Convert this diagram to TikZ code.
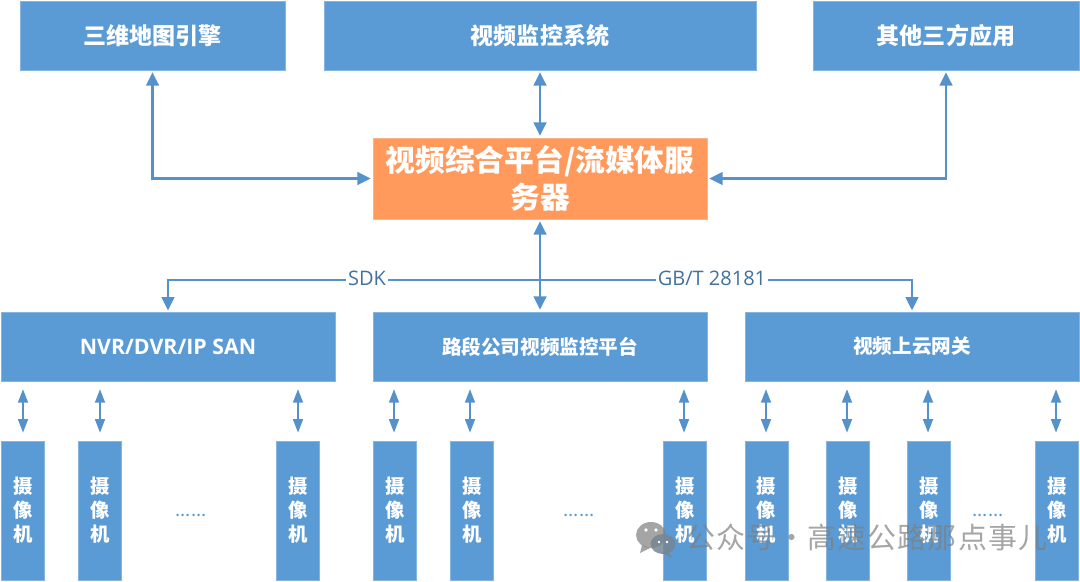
\documentclass[tikz,border=0pt]{standalone}
\usepackage{fontspec}
\setmainfont{Noto Sans CJK SC}
\newfontfamily\labelfont{Open Sans}
\usetikzlibrary{arrows.meta, positioning}
\definecolor{cBlue}{HTML}{5B9BD5}
\definecolor{cOrange}{HTML}{FF9A5C}
\definecolor{cLine}{HTML}{5591CB}
\definecolor{cText}{HTML}{41719C}
\definecolor{cMark}{HTML}{7F7F7F}
\begin{document}
\begin{tikzpicture}[
  x=0.75pt, y=-0.75pt,
  cbox/.style={rectangle, draw=cBlue!75!white, line width=0.4pt, fill=cBlue, text=white,
              align=center, inner sep=0pt, font=\bfseries},
  topbox/.style={cbox, minimum height=51.75pt, font=\fontsize{17.3}{20}\selectfont\bfseries},
  midbox/.style={cbox, minimum width=250.5pt, minimum height=51.75pt,
                 font=\fontsize{14.7}{18}\selectfont\bfseries},
  cambox/.style={cbox, minimum width=32.6pt, minimum height=104.5pt,
                 font=\fontsize{14.5}{18}\selectfont\bfseries},
  serverbox/.style={cbox, fill=cOrange, draw=cOrange!75!white, minimum width=250.5pt,
                    minimum height=60.75pt,
                    font=\fontsize{22.3}{27.75}\selectfont\bfseries},
  arr/.style={-{Stealth[length=10pt, width=9.5pt, inset=0pt]}, line width=1.8pt, color=cLine},
  biarr/.style={{Stealth[length=10pt, width=9.5pt, inset=0pt]}-{Stealth[length=10pt, width=9.5pt, inset=0pt]},
                line width=1.8pt, color=cLine, shorten <=1.5pt, shorten >=1.5pt},
  camarr/.style={{Stealth[length=10pt, width=7.5pt, inset=0pt]}-{Stealth[length=10pt, width=7.5pt, inset=0pt]},
                 line width=1pt, color=cLine, shorten <=6pt, shorten >=6pt},
  lbl/.style={inner sep=1.2pt, text=cText, font=\labelfont\fontsize{15}{17}\selectfont},
  dotlbl/.style={text=cBlue, inner sep=0pt, font=\fontsize{14}{14}\selectfont},
]
\useasboundingbox (0,0) rectangle (1080,581);

\node[topbox, minimum width=198.75pt] (mapengine) at (152.5,35.5) {三维地图引擎};
\node[topbox, minimum width=324pt]    (monitor)   at (540,35.5)   {视频监控系统};
\node[topbox, minimum width=199.5pt]  (thirdapp)  at (946,35.5)   {其他三方应用};

\node[serverbox] (server) at (540,178.5) {视频综合平台/流媒体服\\务器};

\node[midbox, font=\labelfont\fontsize{16}{18}\selectfont\bfseries] (nvr) at (168,346.5) {NVR/DVR/IP SAN};
\node[midbox] (platform) at (540,346.5) {路段公司视频监控平台};
\node[midbox] (gateway)  at (912,346.5) {视频上云网关};

\foreach \name/\cx/\ax/\parent in {a1/23/23/nvr, a2/100/100/nvr, a3/298/298/nvr,
                               b1/395/394/platform, b2/472/470/platform, b3/685/684/platform,
                               c1/766.5/766/gateway, c2/848/847/gateway, c3/929/928/gateway, c4/1057/1056/gateway} {
  \node[cambox] (\name) at (\cx,510.5) {摄\\像\\机};
  \draw[camarr] (\ax,0 |- \name.north) -- (\ax,0 |- \parent.south);
}

\node[dotlbl] (dotsa) at (191,515) {......};
\node[dotlbl] (dotsb) at (579,515) {......};
\node[dotlbl] (dotsc) at (988,515) {......};

\draw[biarr] (mapengine.south) |- (server.west);
\draw[biarr] (monitor.south)   -- (server.north);
\draw[biarr] (thirdapp.south)  |- (server.east);
\draw[biarr] (server.south)    -- (platform.north);

\coordinate (bus) at (540,280);
\node[lbl] (sdk) at (367,278) {SDK};
\node[lbl] (gbt) at (712,278) {GB/T 28181};
\draw[line width=1.8pt, color=cLine] (bus) -- (bus -| sdk.east);
\draw[line width=1.8pt, color=cLine] (bus) -- (bus -| gbt.west);
\draw[arr, shorten >=1pt] (bus -| sdk.west) -| (nvr.north);
\draw[arr, shorten >=1pt] (bus -| gbt.east) -| (gateway.north);

\fill[cMark, opacity=0.7] (651,535) ellipse [x radius=15, y radius=13];
\fill[cMark, opacity=0.7] (642,545) -- (640,553) -- (650,548) -- cycle;
\fill[cMark!75!cBlue, opacity=0.85] (663,544) ellipse [x radius=12.5, y radius=10];
\fill[cMark!75!cBlue, opacity=0.85] (668,550) -- (672,558) -- (662,553) -- cycle;
\fill[white] (646,530) circle [radius=1.8] (656,530) circle [radius=1.8]
             (659,542) circle [radius=1.4] (667,542) circle [radius=1.4];
\node[text=cMark, opacity=0.7, inner sep=0pt, anchor=west,
      font=\fontsize{21.7}{24}\selectfont] (mark) at (686,537)
  {\addfontfeature{LetterSpace=4}公众号\hspace{-4.5pt} · \hspace{-4.5pt}高速公路那点事儿};

\end{tikzpicture}
\end{document}
